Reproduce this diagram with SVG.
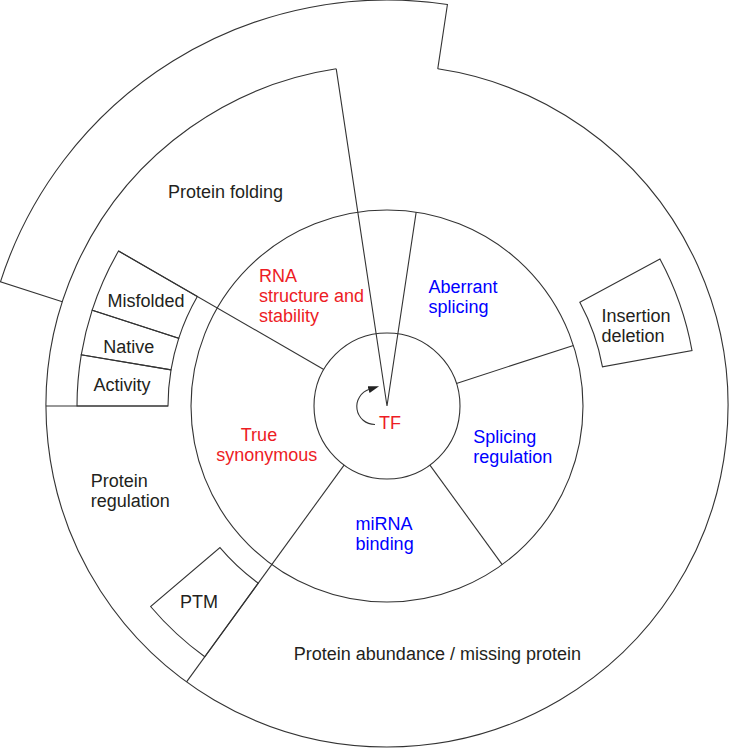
<svg xmlns="http://www.w3.org/2000/svg" width="729" height="748" viewBox="0 0 729 748">
<style>
  .ln { fill: none; stroke: #333333; stroke-width: 1.1; }
  .bx { fill: none; stroke: #333333; stroke-width: 1.1; }
  text { font-family: "Liberation Sans", Arial, sans-serif; font-size: 18px; }
  .k { fill: #231f20; }
  .r { fill: #ed1c24; }
  .b { fill: #0000ff; }
</style>
<defs>
  <marker id="ah" markerUnits="userSpaceOnUse" markerWidth="12" markerHeight="8" refX="1" refY="3.5" orient="auto">
    <path d="M0,0 L11,3.5 L0,7 Z" fill="#222222"/>
  </marker>
</defs>
<rect x="0" y="0" width="729" height="748" fill="#ffffff"/>

<g id="connectors">
  <!-- outer circle with top gap -->
  <path class="ln" d="M 437.76 68.80 A 341 341 0 1 1 336.24 68.80"/>
  <!-- outer band (protein folding outer shell) -->
  <path class="ln" d="M 437.76 68.80 L 447.43 4.52 A 406 406 0 0 0 0.44 281.89 L 62.32 301.76"/>
  <!-- wedge -->
  <path class="ln" d="M 336.24 68.80 L 387 406 L 416.17 212.18"/>
  <!-- middle and inner circles -->
  <circle class="ln" cx="387" cy="406" r="196"/>
  <circle class="ln" cx="387" cy="406" r="73"/>
  <!-- radial separators -->
  <path class="ln" d="M 323.78 369.5 L 118.53 251"/>
  <path class="ln" d="M 456.43 383.44 L 573.41 345.43"/>
  <path class="ln" d="M 429.91 465.06 L 502.21 564.57"/>
  <path class="ln" d="M 344.09 465.06 L 186.56 681.88"/>
  <path class="ln" d="M 168 406 L 46 406"/>
  <!-- center arrow -->
  <path class="ln" d="M 375 424.5 A 18 18 0 0 1 369.5 389.3" marker-end="url(#ah)"/>
</g>

<g id="node-protein-folding">
  <text class="k" x="168" y="198">Protein folding</text>
</g>
<g id="node-rna-structure">
  <text class="r" x="259" y="281.7">RNA</text>
  <text class="r" x="259" y="302">structure and</text>
  <text class="r" x="259" y="322.3">stability</text>
</g>
<g id="node-aberrant-splicing">
  <text class="b" x="428.5" y="292.5">Aberrant</text>
  <text class="b" x="428.5" y="312.8">splicing</text>
</g>
<g id="node-insertion-deletion">
  <path class="bx" d="M 579.83 302.17 L 659.95 259.03 A 310 310 0 0 1 692.01 350.57 L 602.47 366.84 A 219 219 0 0 0 579.83 302.17 Z"/>
  <text class="k" x="601.5" y="322">Insertion</text>
  <text class="k" x="601.5" y="342">deletion</text>
</g>
<g id="node-misfolded">
  <path class="bx" d="M 197.34 296.5 L 118.53 251 A 310 310 0 0 0 92.17 310.20 L 178.72 338.32 A 219 219 0 0 1 197.34 296.5 Z"/>
  <text class="k" x="107.5" y="307">Misfolded</text>
</g>
<g id="node-native">
  <path class="bx" d="M 178.72 338.32 L 92.17 310.20 A 310 310 0 0 0 81.25 354.83 L 171.0 369.85 A 219 219 0 0 1 178.72 338.32 Z"/>
  <text class="k" x="103.3" y="352.7">Native</text>
</g>
<g id="node-activity">
  <path class="bx" d="M 171.0 369.85 L 81.25 354.83 A 310 310 0 0 0 77 406 L 168 406 A 219 219 0 0 1 171.0 369.85 Z"/>
  <text class="k" x="93.4" y="391">Activity</text>
</g>
<g id="node-true-synonymous">
  <text class="r" x="240.8" y="440.5">True</text>
  <text class="r" x="216.2" y="461">synonymous</text>
</g>
<g id="node-tf">
  <text class="r" x="379" y="429">TF</text>
</g>
<g id="node-splicing-regulation">
  <text class="b" x="473.3" y="443">Splicing</text>
  <text class="b" x="473.3" y="463">regulation</text>
</g>
<g id="node-mirna-binding">
  <text class="b" x="355.6" y="529.6">miRNA</text>
  <text class="b" x="355.6" y="550">binding</text>
</g>
<g id="node-protein-regulation">
  <text class="k" x="90.7" y="486.7">Protein</text>
  <text class="k" x="90.7" y="507">regulation</text>
</g>
<g id="node-ptm">
  <path class="bx" d="M 219.98 547.65 A 219 219 0 0 0 258.27 583.18 L 204.79 656.80 A 310 310 0 0 1 150.57 606.50 Z"/>
  <text class="k" x="180" y="608.3">PTM</text>
</g>
<g id="node-protein-abundance">
  <text class="k" x="293.8" y="659.8">Protein abundance / missing protein</text>
</g>
</svg>
